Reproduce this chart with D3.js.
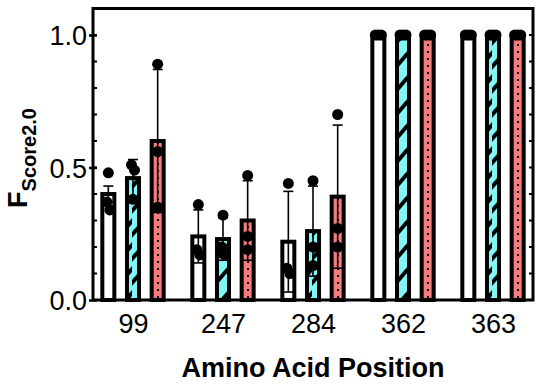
<!DOCTYPE html>
<html>
<head>
<meta charset="utf-8">
<script src="https://cdn.jsdelivr.net/npm/d3@7"></script>
<style>
  body { margin: 0; background: #fff; }
  svg { display: block; font-family: 'Liberation Sans', Arial, sans-serif; }
</style>
</head>
<body>
<svg width="550" height="384"></svg>
<script>
// data
var categories = ['99', '247', '284', '362', '363']
var seriesNames = ['Series 1', 'Series 2', 'Series 3']

var meansS1 = [0.40, 0.24, 0.22, 1.0, 1.0]
var meansS2 = [0.46, 0.23, 0.26, 1.0, 1.0]
var meansS3 = [0.60, 0.30, 0.39, 1.0, 1.0]

var errS1 = [0.03, 0.10, 0.19, 0, 0]
var errS2 = [0.07, 0.08, 0.17, 0, 0]
var errS3 = [0.27, 0.15, 0.27, 0, 0]

var pointsS1 = [[0.48, 0.37, 0.34], [0.36, 0.19, 0.17], [0.44, 0.12, 0.10], [1, 1, 1], [1, 1, 1]]
var pointsS2 = [[0.51, 0.49, 0.38], [0.32, 0.20, 0.17], [0.45, 0.20, 0.13], [1, 1, 1], [1, 1, 1]]
var pointsS3 = [[0.89, 0.56, 0.35], [0.47, 0.24, 0.19], [0.70, 0.27, 0.20], [1, 1, 1], [1, 1, 1]]

var yTickLabels = [0, 0.5, 1.0]

var allMeans = [meansS1, meansS2, meansS3]
var allErr = [errS1, errS2, errS3]
var allPoints = [pointsS1, pointsS2, pointsS3]

var rows = []
categories.forEach(function(cat, i) {
	seriesNames.forEach(function(s, j) {
		rows.push({cat: cat, series: s, idx: j, mean: allMeans[j][i], err: allErr[j][i], points: allPoints[j][i]})
	})
})

var svg = d3.select('svg')
var left = 93, right = 533, bottom = 300

var x = d3.scalePoint().domain(categories).range([133, 493])
var xs = d3.scaleBand().domain(seriesNames).range([-37, 37])
var y = d3.scaleLinear().domain([0, 1.1]).range([bottom, 8.5])

// fill patterns
var defs = svg.append('defs')
defs.append('pattern').attr('id', 'plainFill')
	.attr('patternUnits', 'userSpaceOnUse').attr('width', 4).attr('height', 4)
	.append('rect').attr('width', 4).attr('height', 4).attr('fill', '#fff')

var stripes = defs.append('pattern').attr('id', 'stripeFill')
	.attr('patternUnits', 'userSpaceOnUse').attr('width', 12).attr('height', 24)
stripes.append('rect').attr('width', 12).attr('height', 24).attr('fill', '#80f6f6')
stripes.append('polygon').attr('points', '0,16 12,2 12,8 0,22').attr('fill', '#000')

var dots = defs.append('pattern').attr('id', 'dotFill')
	.attr('patternUnits', 'userSpaceOnUse').attr('width', 6).attr('height', 7)
dots.append('rect').attr('width', 6).attr('height', 7).attr('fill', '#f47c7c')
dots.append('rect').attr('x', 1).attr('y', 2).attr('width', 2).attr('height', 2).attr('fill', '#000')

var fills = ['url(#plainFill)', 'url(#stripeFill)', 'url(#dotFill)']

// bars
var barW = 12
svg.append('g').selectAll('rect')
	.data(rows)
	.enter().append('rect')
	.attr('x', function(d) {return x(d.cat) + xs(d.series) + xs.bandwidth() / 2 - barW / 2})
	.attr('y', function(d) {return y(d.mean)})
	.attr('width', barW)
	.attr('height', function(d) {return y(0) - y(d.mean)})
	.attr('fill', function(d) {return fills[d.idx]})
	.attr('stroke', '#000')
	.attr('stroke-width', 4)

// error bars
var eb = svg.append('g').selectAll('g')
	.data(rows.filter(function(d) {return d.err > 0}))
	.enter().append('g')
	.attr('transform', function(d) {return 'translate(' + (x(d.cat) + xs(d.series) + xs.bandwidth() / 2) + ',0)'})
eb.append('line')
	.attr('y1', function(d) {return y(d.mean + d.err)})
	.attr('y2', function(d) {return y(Math.max(0, d.mean - d.err))})
	.attr('stroke', '#000').attr('stroke-width', 1.6)
eb.append('line')
	.attr('x1', -5).attr('x2', 5)
	.attr('y1', function(d) {return y(d.mean + d.err)})
	.attr('y2', function(d) {return y(d.mean + d.err)})
	.attr('stroke', '#000').attr('stroke-width', 1.6)
eb.append('line')
	.attr('x1', -5).attr('x2', 5)
	.attr('y1', function(d) {return y(Math.max(0, d.mean - d.err))})
	.attr('y2', function(d) {return y(Math.max(0, d.mean - d.err))})
	.attr('stroke', '#000').attr('stroke-width', 1.6)

// individual points, spread sideways when they overlap
var pts = []
rows.forEach(function(d) {
	var cx = x(d.cat) + xs(d.series) + xs.bandwidth() / 2
	var sorted = d.points.slice().sort(d3.descending)
	var clusters = []
	sorted.forEach(function(v) {
		var last = clusters[clusters.length - 1]
		if (last && Math.abs(y(v) - y(last[last.length - 1])) < 8) last.push(v)
		else clusters.push([v])
	})
	clusters.forEach(function(c) {
		c.forEach(function(v, k) {
			pts.push({cx: cx + (k - (c.length - 1) / 2) * 3, v: v})
		})
	})
})
svg.append('g').selectAll('circle')
	.data(pts)
	.enter().append('circle')
	.attr('cx', function(p) {return p.cx})
	.attr('cy', function(p) {return y(p.v)})
	.attr('r', 5.5)
	.attr('fill', '#000')

// frame
var frame = svg.append('g').attr('stroke', '#000').attr('stroke-width', 3).attr('fill', 'none')
frame.append('path')
	.attr('d', 'M' + left + ',' + y(1.1) + 'V' + bottom + 'H' + right + 'V' + y(1.1) + 'Z')
	.attr('stroke-linejoin', 'miter')

// minor ticks, inside on both sides
var minor = d3.range(1, 11).map(function(i) {return i / 10})
svg.append('g').selectAll('line')
	.data(minor)
	.enter().append('line')
	.attr('x1', left).attr('x2', left + 4)
	.attr('y1', function(v) {return y(v)}).attr('y2', function(v) {return y(v)})
	.attr('stroke', '#000').attr('stroke-width', 2)
svg.append('g').selectAll('line')
	.data(minor)
	.enter().append('line')
	.attr('x1', right - 4).attr('x2', right)
	.attr('y1', function(v) {return y(v)}).attr('y2', function(v) {return y(v)})
	.attr('stroke', '#000').attr('stroke-width', 2)

// y axis with major ticks
var yAxis = svg.append('g')
	.attr('transform', 'translate(' + left + ',0)')
	.call(d3.axisLeft(y).tickValues(yTickLabels).tickFormat(d3.format('.1f')).tickSize(4).tickSizeOuter(0).tickPadding(2))
yAxis.select('.domain').remove()
yAxis.selectAll('.tick line').attr('stroke-width', 2.5).attr('x2', 4).attr('x1', -4)
yAxis.selectAll('.tick text')
	.attr('font-size', 27).attr('fill', '#000')
	.attr('font-family', "'Liberation Sans', Arial, sans-serif")
	.attr('dy', '0.36em')

// x axis labels
var xAxis = svg.append('g')
	.attr('transform', 'translate(0,' + bottom + ')')
	.call(d3.axisBottom(x).tickSize(0).tickPadding(0))
xAxis.select('.domain').remove()
xAxis.selectAll('.tick text')
	.attr('font-size', 27).attr('fill', '#000')
	.attr('font-family', "'Liberation Sans', Arial, sans-serif")
	.attr('dy', null).attr('y', 33)

// axis titles
svg.append('text')
	.attr('x', 313).attr('y', 377)
	.attr('text-anchor', 'middle')
	.attr('font-size', 27).attr('font-weight', 'bold')
	.text('Amino Acid Position')

var yt = svg.append('text')
	.attr('transform', 'translate(27,158) rotate(-90)')
	.attr('text-anchor', 'middle')
	.attr('font-weight', 'bold')
yt.append('tspan').attr('font-size', 27).text('F')
yt.append('tspan').attr('font-size', 20).attr('dy', 9).text('Score2.0')
</script>
</body>
</html>
